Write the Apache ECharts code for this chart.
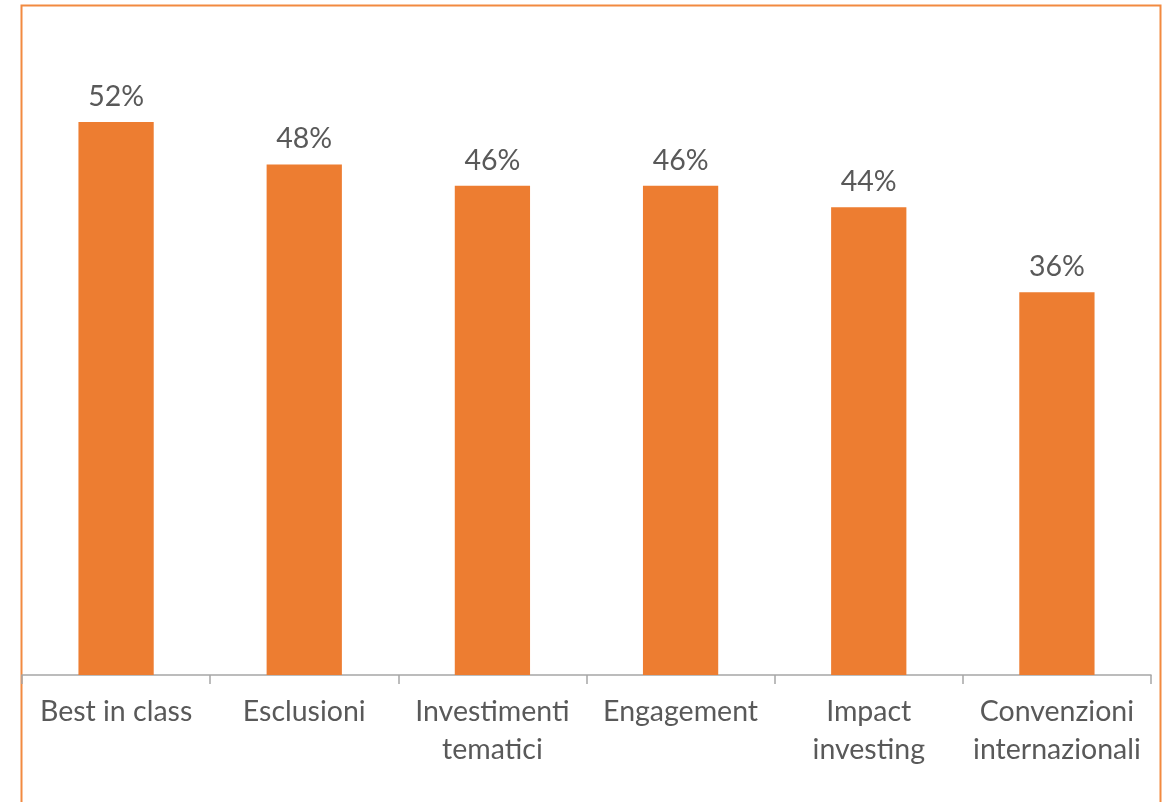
<!DOCTYPE html>
<html>
<head>
<meta charset="utf-8">
<script src="https://cdn.jsdelivr.net/npm/echarts@6/dist/echarts.min.js"></script>
<style>
  html, body { margin: 0; padding: 0; background: #ffffff; }
  #chart { width: 1169px; height: 802px; }
</style>
</head>
<body>
<div id="chart"></div>
<script>
// Strategie SRI adottate (% dei rispondenti)
const categories = ['Best in class', 'Esclusioni', 'Investimenti\ntematici', 'Engagement', 'Impact\ninvesting', 'Convenzioni\ninternazionali'];
const shares = [52, 48, 46, 46, 44, 36];

const chart = echarts.init(document.getElementById('chart'));
const textColor = '#595959';
const font = 'Lato, "Open Sans", sans-serif';

chart.setOption({
  animation: false,
  graphic: [{
    type: 'rect',
    shape: { x: 21.5, y: 5.5, width: 1139, height: 820 },
    style: { fill: 'none', stroke: '#F28A40', lineWidth: 2 },
    silent: true,
    z: -1
  }],
  grid: { left: 22, right: 18, top: 37, bottom: 127, containLabel: false },
  xAxis: {
    type: 'category',
    data: categories,
    axisLine: { lineStyle: { color: '#A6A6A6', width: 1.5 } },
    axisTick: { show: true, length: 9, lineStyle: { color: '#A6A6A6', width: 1.5 } },
    axisLabel: {
      color: textColor,
      fontFamily: font,
      fontSize: 28.5,
      lineHeight: 38,
      margin: 18,
      interval: 0
    }
  },
  yAxis: {
    type: 'value',
    min: 0,
    max: 60,
    show: false,
    splitLine: { show: false }
  },
  series: [{
    type: 'bar',
    data: shares,
    barWidth: '40%',
    itemStyle: { color: '#ED7D31' },
    label: {
      show: true,
      position: 'top',
      distance: 11,
      formatter: '{c}%',
      color: textColor,
      fontFamily: font,
      fontSize: 28.5
    }
  }]
});
</script>
</body>
</html>
